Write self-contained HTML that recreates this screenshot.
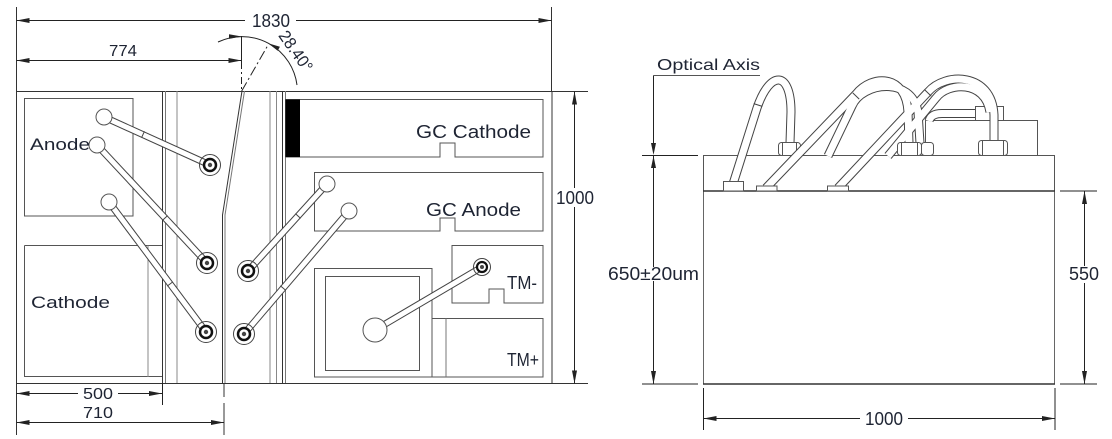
<!DOCTYPE html>
<html><head><meta charset="utf-8"><style>
html,body{margin:0;padding:0;background:#fff;}
svg{display:block;}
text{font-family:"Liberation Sans",sans-serif;fill:#1e2433;}
</style></head><body>
<svg width="1112" height="439" viewBox="0 0 1112 439" xmlns="http://www.w3.org/2000/svg">
<defs>
<marker id="ae" viewBox="0 0 13 5" refX="13" refY="2.5" markerWidth="13" markerHeight="5" orient="auto" markerUnits="userSpaceOnUse"><path d="M0,0 L13,2.5 L0,5 Z" fill="#222"/></marker>
<marker id="as" viewBox="0 0 13 5" refX="0" refY="2.5" markerWidth="13" markerHeight="5" orient="auto" markerUnits="userSpaceOnUse"><path d="M13,0 L0,2.5 L13,5 Z" fill="#222"/></marker>
</defs>

<!-- ===== LEFT DRAWING ===== -->
<g fill="none" stroke="#333" stroke-width="1">
  <!-- frame -->
  <rect x="16.5" y="91.5" width="535.5" height="292"/>
  <line x1="552" y1="91.5" x2="588" y2="91.5"/>
  <line x1="552" y1="383.5" x2="588" y2="383.5"/>
  <line x1="16.5" y1="7" x2="16.5" y2="91"/>
  <line x1="16.5" y1="383" x2="16.5" y2="435"/>
  <line x1="551.5" y1="7" x2="551.5" y2="91"/>
  <!-- inner verticals -->
  <line x1="162.5" y1="91" x2="162.5" y2="383"/>
  <line x1="165.5" y1="91" x2="165.5" y2="383" stroke="#777"/>
  <line x1="177" y1="91" x2="177" y2="383" stroke="#888"/>
  <line x1="270" y1="91" x2="270" y2="383" stroke="#888"/>
  <line x1="276.5" y1="91" x2="276.5" y2="383" stroke="#888"/>
  <line x1="282.5" y1="91" x2="282.5" y2="383"/>
  <line x1="285.5" y1="91" x2="285.5" y2="383" stroke="#777"/>
  <!-- bent centre double line -->
  <polyline points="242,91 222.5,215 222.5,383"/>
  <polyline points="244.5,91 225,215 225,383" stroke="#777"/>
  <line x1="224" y1="383" x2="224" y2="397"/>
  <line x1="224" y1="403" x2="224" y2="435"/>
  <!-- anode / cathode boxes -->
  <rect x="24.5" y="98.5" width="108.5" height="117.5" stroke="#555"/>
  <line x1="24.5" y1="245.5" x2="162" y2="245.5" stroke="#555"/>
  <line x1="24.5" y1="245.5" x2="24.5" y2="377" stroke="#555"/>
  <line x1="24.5" y1="376.5" x2="162" y2="376.5" stroke="#555"/>
  <line x1="148" y1="245.5" x2="148" y2="377" stroke="#888"/>
  <!-- GC cathode -->
  <path d="M285.5 99.5 H543 V157 H455 V143 H440 V157 H285.5 Z" stroke="#555"/>
  <!-- GC anode -->
  <path d="M314.5 172.5 H543 V231 H455 V218 H440 V231 H314.5 Z" stroke="#555"/>
  <!-- TM- -->
  <path d="M452 245.5 H543 V303 H504 V289 H489 V303 H452 Z" stroke="#555"/>
  <!-- big box -->
  <rect x="314.5" y="268.5" width="117.5" height="108.5" stroke="#555"/>
  <rect x="325.5" y="276.5" width="94" height="94" stroke="#555"/>
  <path d="M432 318.5 H543 V377 H432" stroke="#555"/>
  <line x1="446" y1="318.5" x2="446" y2="377" stroke="#777"/>
</g>
<rect x="285.5" y="99.5" width="14.5" height="57.5" fill="#000"/>

<!-- tubes left -->
<g fill="none" stroke-linecap="butt">
  <g stroke="#444" stroke-width="7">
    <line x1="104" y1="117" x2="210" y2="165"/>
    <line x1="97" y1="145" x2="207" y2="263"/>
    <line x1="109" y1="202" x2="206" y2="332"/>
    <line x1="327" y1="184" x2="248" y2="271"/>
    <line x1="349" y1="211" x2="244" y2="334"/>
    <line x1="375" y1="330" x2="482" y2="267"/>
  </g>
  <g stroke="#fff" stroke-width="5">
    <line x1="104" y1="117" x2="210" y2="165"/>
    <line x1="97" y1="145" x2="207" y2="263"/>
    <line x1="109" y1="202" x2="206" y2="332"/>
    <line x1="327" y1="184" x2="248" y2="271"/>
    <line x1="349" y1="211" x2="244" y2="334"/>
    <line x1="375" y1="330" x2="482" y2="267"/>
  </g>
  <g stroke="#444" stroke-width="1">
    <line x1="0" y1="-3.5" x2="0" y2="3.5" transform="translate(143,134.5) rotate(24.4)"/>
    <line x1="0" y1="-3.5" x2="0" y2="3.5" transform="translate(165,218) rotate(47)"/>
    <line x1="0" y1="-3.5" x2="0" y2="3.5" transform="translate(170,284) rotate(53.3)"/>
    <line x1="0" y1="-3.5" x2="0" y2="3.5" transform="translate(298,216) rotate(132.2)"/>
    <line x1="0" y1="-3.5" x2="0" y2="3.5" transform="translate(283,288) rotate(130.5)"/>
  </g>
</g>
<!-- plain ends -->
<g fill="#fff" stroke="#555" stroke-width="1">
  <circle cx="104" cy="117" r="8"/>
  <circle cx="97" cy="145" r="8"/>
  <circle cx="109" cy="202" r="8"/>
  <circle cx="327" cy="184" r="8"/>
  <circle cx="349" cy="211" r="8"/>
  <circle cx="375" cy="330" r="12"/>
</g>
<!-- ring ends -->
<g>
  <g transform="translate(210,165)"><circle r="10.5" fill="none" stroke="#444" stroke-width="1"/><circle r="6" fill="#fff" stroke="#111" stroke-width="2.5"/><circle r="2.2" fill="#444"/></g>
  <g transform="translate(207,263)"><circle r="10.5" fill="none" stroke="#444" stroke-width="1"/><circle r="6" fill="#fff" stroke="#111" stroke-width="2.5"/><circle r="2.2" fill="#444"/></g>
  <g transform="translate(206,332)"><circle r="10.5" fill="none" stroke="#444" stroke-width="1"/><circle r="6" fill="#fff" stroke="#111" stroke-width="2.5"/><circle r="2.2" fill="#444"/></g>
  <g transform="translate(248,271)"><circle r="10.5" fill="none" stroke="#444" stroke-width="1"/><circle r="6" fill="#fff" stroke="#111" stroke-width="2.5"/><circle r="2.2" fill="#444"/></g>
  <g transform="translate(244,334)"><circle r="10.5" fill="none" stroke="#444" stroke-width="1"/><circle r="6" fill="#fff" stroke="#111" stroke-width="2.5"/><circle r="2.2" fill="#444"/></g>
  <g transform="translate(482,267)"><circle r="8.5" fill="none" stroke="#444" stroke-width="1"/><circle r="5" fill="#fff" stroke="#111" stroke-width="2.2"/><circle r="2" fill="#444"/></g>
</g>

<!-- left labels -->
<text x="30" y="150" font-size="17" textLength="60" lengthAdjust="spacingAndGlyphs">Anode</text>
<text x="31" y="308" font-size="17" textLength="79" lengthAdjust="spacingAndGlyphs">Cathode</text>
<text x="416" y="138" font-size="18" textLength="115" lengthAdjust="spacingAndGlyphs">GC Cathode</text>
<text x="426" y="216" font-size="18" textLength="95" lengthAdjust="spacingAndGlyphs">GC Anode</text>
<text x="507" y="289" font-size="18" textLength="30" lengthAdjust="spacingAndGlyphs">TM-</text>
<text x="507" y="366" font-size="18" textLength="32" lengthAdjust="spacingAndGlyphs">TM+</text>

<!-- left dimensions -->
<g stroke="#222" stroke-width="1" fill="none">
  <line x1="16.5" y1="20.5" x2="245" y2="20.5" marker-start="url(#as)"/>
  <line x1="296" y1="20.5" x2="551.5" y2="20.5" marker-end="url(#ae)"/>
  <line x1="16.5" y1="60.5" x2="241.5" y2="60.5" marker-start="url(#as)" marker-end="url(#ae)"/>
  <line x1="241.5" y1="36" x2="241.5" y2="62"/>
  <line x1="241.5" y1="62" x2="241.5" y2="91" stroke-dasharray="7 3 2 3"/>
  <line x1="241.7" y1="91" x2="268" y2="45" stroke-dasharray="10 3 2 3"/>
  <path d="M218 42 A55.5 55.5 0 0 1 297 85"/>
  <line x1="574.5" y1="91.5" x2="574.5" y2="188" marker-start="url(#as)"/>
  <line x1="574.5" y1="207" x2="574.5" y2="383.5" marker-end="url(#ae)"/>
  <line x1="16.5" y1="393.5" x2="78" y2="393.5" marker-start="url(#as)"/>
  <line x1="118" y1="393.5" x2="162" y2="393.5" marker-end="url(#ae)"/>
  <line x1="162.5" y1="383" x2="162.5" y2="405"/>
  <line x1="16.5" y1="422.5" x2="224" y2="422.5" marker-start="url(#as)" marker-end="url(#ae)"/>
</g>
<path d="M241.7 36.5 L229 34.3 L229 38.9 Z" fill="#222"/>
<path d="M268.1 43.2 L277.7 50.8 L279.9 46.8 Z" fill="#222"/>
<text x="271" y="27" font-size="18" text-anchor="middle" textLength="38" lengthAdjust="spacingAndGlyphs">1830</text>
<text x="123" y="56" font-size="16" text-anchor="middle" textLength="28" lengthAdjust="spacingAndGlyphs">774</text>
<text transform="translate(296,51) rotate(55)" x="0" y="6" font-size="17" text-anchor="middle" textLength="46" lengthAdjust="spacingAndGlyphs">28.40°</text>
<text x="575" y="204" font-size="18" text-anchor="middle" textLength="38" lengthAdjust="spacingAndGlyphs">1000</text>
<text x="98" y="399" font-size="16" text-anchor="middle" textLength="30" lengthAdjust="spacingAndGlyphs">500</text>
<text x="98" y="418" font-size="16" text-anchor="middle" textLength="30" lengthAdjust="spacingAndGlyphs">710</text>

<!-- ===== RIGHT DRAWING ===== -->
<g fill="#fff" stroke="#555" stroke-width="1">
  <rect x="703.5" y="155.5" width="351" height="35.5"/>
  <rect x="925.5" y="120.5" width="112" height="35"/>
  <rect x="975.5" y="106.5" width="28" height="14"/>
</g>
<rect x="703.5" y="191" width="351" height="193" fill="none" stroke="#666" stroke-width="1"/>
<line x1="703" y1="191" x2="1055" y2="191" stroke="#333" stroke-width="1.5"/>
<line x1="703" y1="384" x2="1055" y2="384" stroke="#333" stroke-width="1.5"/>

<!-- right tubes -->
<g fill="none">
  <path d="M733 184 L757 108 C770 70, 791 70, 791 112 L790 143" stroke="#444" stroke-width="9"/>
  <path d="M733 184 L757 108 C770 70, 791 70, 791 112 L790 143" stroke="#fff" stroke-width="7"/>
</g>
<g fill="#fff" stroke="#555" stroke-width="1">
  <rect x="778.5" y="142.5" width="22" height="13" rx="3"/>
  <line x1="782.5" y1="143" x2="782.5" y2="155"/><line x1="796.5" y1="143" x2="796.5" y2="155"/>
</g>
<g fill="none">
  <g stroke="#444" stroke-width="9">
    <path d="M766 188 L856 94 C872 74, 906 74, 908 112 L909 143"/>
    <path d="M828 156 L852 106 C862 82, 912 76, 918 112 L920 143"/>
    <path d="M888 156 L936 98 C948 82, 985 80, 990 112"/>
    <path d="M838 188 L928 92 C945 72, 992 72, 994 115 L994 141"/>
    <path d="M975 113.5 L942 113.5 Q931 113.5 929 121"/>
  </g>
  <g stroke="#fff" stroke-width="7">
    <path d="M766 188 L856 94 C872 74, 906 74, 908 112 L909 143"/>
    <path d="M828 156 L852 106 C862 82, 912 76, 918 112 L920 143"/>
    <path d="M888 156 L936 98 C948 82, 985 80, 990 112"/>
    <path d="M838 188 L928 92 C945 72, 992 72, 994 115 L994 141"/>
    <path d="M975 113.5 L942 113.5 Q931 113.5 929 121"/>
  </g>
  <g stroke="#444" stroke-width="1">
    <line x1="0" y1="-4.5" x2="0" y2="4.5" transform="translate(758,105) rotate(-72)"/>
    <line x1="0" y1="-4.5" x2="0" y2="4.5" transform="translate(856,96) rotate(-46)"/>
    <line x1="0" y1="-4.5" x2="0" y2="4.5" transform="translate(928,93) rotate(-46)"/>
  </g>
</g>
<g fill="#fff" stroke="#555" stroke-width="1">
  <rect x="897.5" y="142.5" width="24" height="13" rx="3"/>
  <rect x="921.5" y="142.5" width="12" height="13" rx="3"/>
  <rect x="978.5" y="140.5" width="29" height="15" rx="3"/>
  <line x1="901.5" y1="143" x2="901.5" y2="155"/><line x1="917.5" y1="143" x2="917.5" y2="155"/>
  <line x1="982.5" y1="141" x2="982.5" y2="155"/><line x1="1003.5" y1="141" x2="1003.5" y2="155"/>
  <rect x="723.5" y="181.5" width="20" height="9.5"/>
  <rect x="756.5" y="186" width="20.5" height="5"/>
  <rect x="827.5" y="186" width="21" height="5"/>
</g>

<!-- right dimensions -->
<g stroke="#222" stroke-width="1" fill="none">
  <line x1="653.5" y1="75.5" x2="760" y2="75.5" stroke="#555"/>
  <line x1="653.5" y1="75.5" x2="653.5" y2="143"/>
  <line x1="653.5" y1="155" x2="653.5" y2="267"/>
  <line x1="653.5" y1="281" x2="653.5" y2="384" marker-end="url(#ae)"/>
  <line x1="642" y1="155.5" x2="698" y2="155.5"/>
  <line x1="642" y1="384" x2="698" y2="384"/>
  <line x1="1060" y1="191" x2="1097" y2="191"/>
  <line x1="1060" y1="384" x2="1097" y2="384"/>
  <line x1="1084.5" y1="191" x2="1084.5" y2="266" marker-start="url(#as)"/>
  <line x1="1084.5" y1="283" x2="1084.5" y2="384" marker-end="url(#ae)"/>
  <line x1="703.5" y1="388" x2="703.5" y2="430"/>
  <line x1="1055" y1="388" x2="1055" y2="430"/>
  <line x1="703.5" y1="418.5" x2="860" y2="418.5" marker-start="url(#as)"/>
  <line x1="908" y1="418.5" x2="1055" y2="418.5" marker-end="url(#ae)"/>
</g>
<path d="M653.5 155 L651 143 L656 143 Z" fill="#222"/>
<path d="M653.5 156 L651 168 L656 168 Z" fill="#222"/>
<text x="657" y="70" font-size="16" textLength="103" lengthAdjust="spacingAndGlyphs">Optical Axis</text>
<text x="608" y="280" font-size="18" textLength="91" lengthAdjust="spacingAndGlyphs">650±20um</text>
<text x="1084" y="280" font-size="18" text-anchor="middle" textLength="30" lengthAdjust="spacingAndGlyphs">550</text>
<text x="884" y="425" font-size="18" text-anchor="middle" textLength="38" lengthAdjust="spacingAndGlyphs">1000</text>
</svg>
</body></html>
